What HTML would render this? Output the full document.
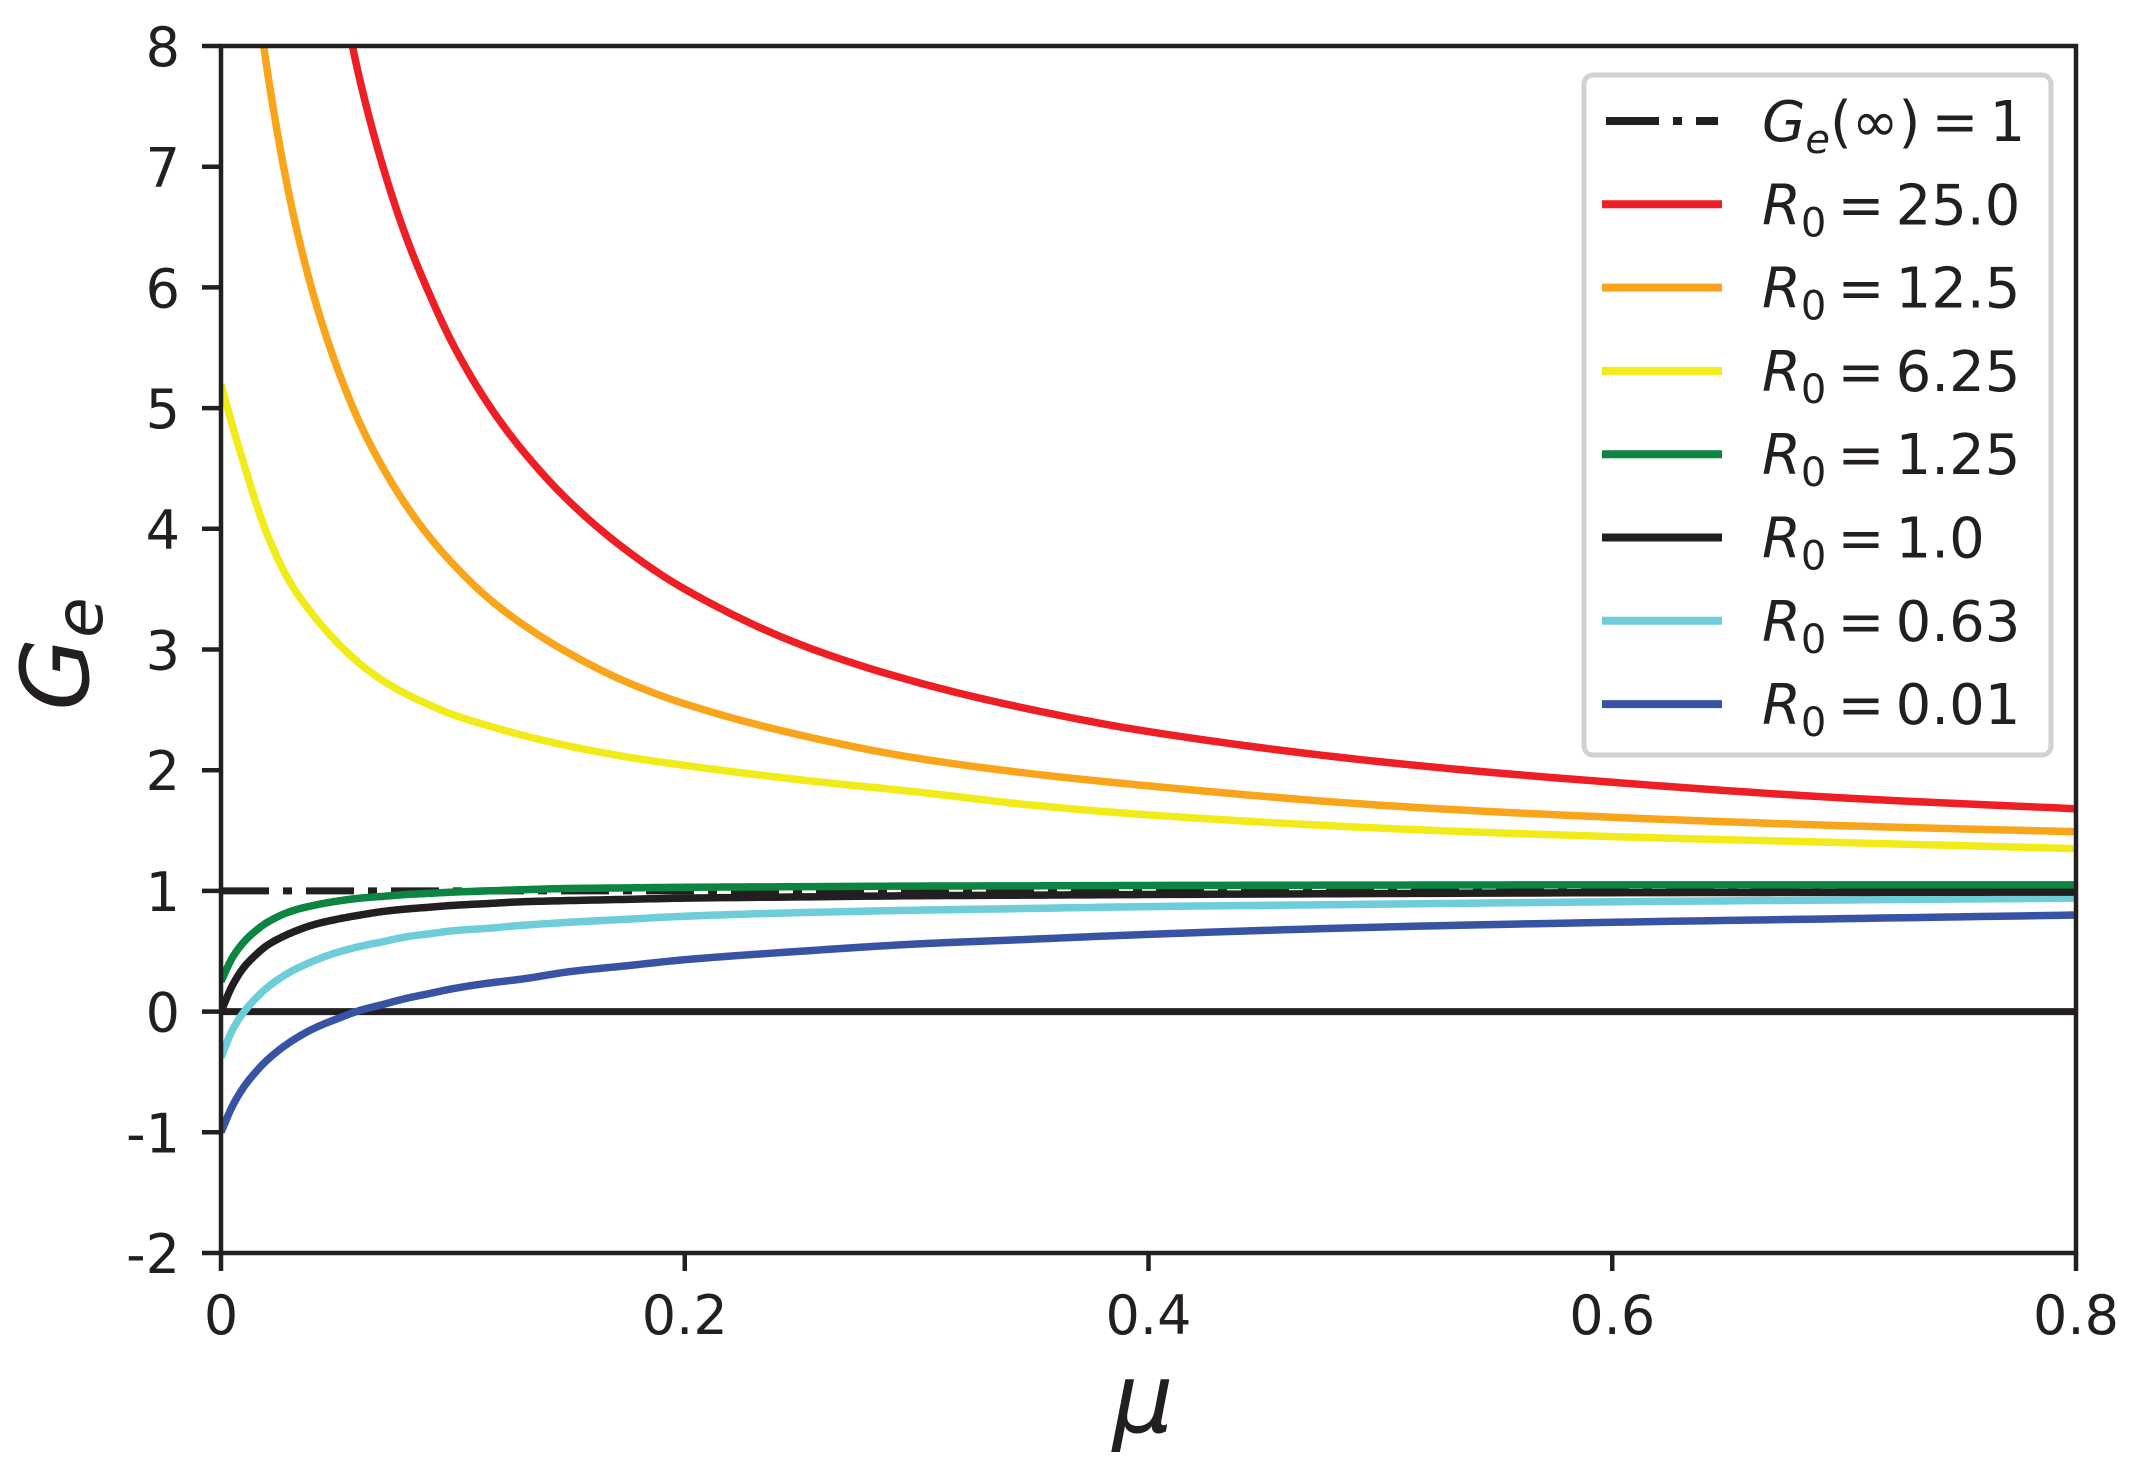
<!DOCTYPE html>
<html><head><meta charset="utf-8"><style>
html,body{margin:0;padding:0;background:#fff;}
svg{display:block;font-family:"DejaVu Sans","Liberation Sans",sans-serif;}
</style></head><body>
<svg id="chart" width="2138" height="1479" viewBox="0 0 2138 1479" xmlns="http://www.w3.org/2000/svg">
<defs><clipPath id="plotclip"><rect x="221" y="46" width="1855" height="1207"/></clipPath></defs>
<g id="series" clip-path="url(#plotclip)"></g>
<g id="axes"></g>
<g id="legend"></g>
<text x="1143" y="1432" font-size="96" font-style="italic" text-anchor="middle" fill="#231f20">μ</text>
<text transform="translate(88,654) rotate(-90)" font-size="94" font-style="italic" text-anchor="middle" fill="#231f20">G<tspan font-size="66" dy="14">e</tspan></text>
</svg>
<script>
const muValues = [0, 0.005, 0.01, 0.015, 0.02, 0.03, 0.04, 0.05, 0.06, 0.07, 0.08, 0.09, 0.1, 0.115, 0.13, 0.15, 0.175, 0.2, 0.25, 0.3, 0.35, 0.4, 0.5, 0.6, 0.7, 0.8];
const seriesR25 = [null, null, null, null, null, null, null, 8.63, 7.71, 6.99, 6.41, 5.94, 5.53, 5.04, 4.65, 4.23, 3.82, 3.50, 3.04, 2.73, 2.50, 2.32, 2.07, 1.90, 1.77, 1.68];
const seriesR12_5 = [null, null, null, 8.5, 7.79, 6.71, 5.93, 5.34, 4.87, 4.50, 4.19, 3.93, 3.71, 3.43, 3.21, 2.97, 2.73, 2.55, 2.29, 2.10, 1.97, 1.87, 1.71, 1.61, 1.54, 1.49];
const seriesR6_25 = [5.2, 4.85, 4.53, 4.22, 3.95, 3.55, 3.28, 3.06, 2.88, 2.74, 2.63, 2.54, 2.46, 2.37, 2.29, 2.20, 2.11, 2.04, 1.92, 1.82, 1.71, 1.63, 1.52, 1.45, 1.40, 1.35];
const seriesR1_25 = [0.25, 0.45, 0.58, 0.67, 0.74, 0.83, 0.88, 0.915, 0.94, 0.955, 0.97, 0.98, 0.99, 1.0, 1.01, 1.02, 1.025, 1.03, 1.035, 1.04, 1.042, 1.045, 1.048, 1.05, 1.05, 1.05];
const seriesR1_0 = [0, 0.22, 0.37, 0.47, 0.55, 0.65, 0.72, 0.765, 0.80, 0.83, 0.85, 0.865, 0.88, 0.895, 0.91, 0.92, 0.93, 0.94, 0.95, 0.96, 0.965, 0.97, 0.978, 0.985, 0.988, 0.99];
const seriesR0_63 = [-0.38, -0.15, 0.0, 0.11, 0.2, 0.33, 0.42, 0.49, 0.54, 0.58, 0.62, 0.645, 0.67, 0.69, 0.715, 0.74, 0.765, 0.79, 0.82, 0.84, 0.855, 0.87, 0.89, 0.91, 0.925, 0.94];
const seriesR0_01 = [-1.0, -0.78, -0.62, -0.5, -0.4, -0.25, -0.14, -0.06, 0.01, 0.06, 0.11, 0.15, 0.19, 0.235, 0.27, 0.33, 0.38, 0.43, 0.50, 0.56, 0.60, 0.64, 0.70, 0.74, 0.77, 0.80];
const xTicks = [0, 0.2, 0.4, 0.6, 0.8];
const xTickLabels = ["0", "0.2", "0.4", "0.6", "0.8"];
const yTicks = [-2, -1, 0, 1, 2, 3, 4, 5, 6, 7, 8];
const yTickLabels = ["-2", "-1", "0", "1", "2", "3", "4", "5", "6", "7", "8"];
const legendLabels = ["25.0", "12.5", "6.25", "1.25", "1.0", "0.63", "0.01"];

const NS = "http://www.w3.org/2000/svg";
const X0 = 221, X1 = 2076, Y0 = 1253, Y1 = 46;
const xs = v => X0 + (v - 0) / 0.8 * (X1 - X0);
const ys = v => Y0 - (v + 2) / 10 * (Y0 - Y1);
function mk(tag, attrs, parent) { const e = document.createElementNS(NS, tag); for (const k in attrs) e.setAttribute(k, attrs[k]); parent.appendChild(e); return e; }

// monotone cubic (Fritsch-Carlson) interpolation in data space, sampled densely
function monotonePath(X, Y) {
  const n = X.length;
  const d = [], m = new Array(n);
  for (let i = 0; i < n - 1; i++) d.push((Y[i + 1] - Y[i]) / (X[i + 1] - X[i]));
  m[0] = d[0]; m[n - 1] = d[n - 2];
  for (let i = 1; i < n - 1; i++) {
    if (d[i - 1] * d[i] <= 0) m[i] = 0;
    else {
      const h0 = X[i] - X[i - 1], h1 = X[i + 1] - X[i];
      const w1 = 2 * h1 + h0, w2 = h1 + 2 * h0;
      m[i] = (w1 + w2) / (w1 / d[i - 1] + w2 / d[i]);
    }
  }
  let path = "";
  for (let i = 0; i < n - 1; i++) {
    const h = X[i + 1] - X[i];
    const steps = 12;
    for (let s = (i === 0 ? 0 : 1); s <= steps; s++) {
      const t = s / steps;
      const h00 = 2*t*t*t - 3*t*t + 1, h10 = t*t*t - 2*t*t + t, h01 = -2*t*t*t + 3*t*t, h11 = t*t*t - t*t;
      const y = h00 * Y[i] + h10 * h * m[i] + h01 * Y[i + 1] + h11 * h * m[i + 1];
      const x = X[i] + t * h;
      path += (path ? "L" : "M") + xs(x).toFixed(2) + "," + ys(y).toFixed(2);
    }
  }
  return path;
}

const series = document.getElementById("series");
const axes = document.getElementById("axes");
const legend = document.getElementById("legend");

const zl = mk("line", {x1: xs(0), x2: xs(0.8), y1: ys(0), y2: ys(0), stroke: "#231f20", "stroke-width": 7}, series);


const asy = mk("line", {x1: xs(0), x2: xs(0.8), y1: ys(1), y2: ys(1), stroke: "#231f20", "stroke-width": 7, "stroke-dasharray": "48,14,9,14"}, series);



const defs = [
  [seriesR0_01, "#3953a4", "series-r0-0.01"],
  [seriesR0_63, "#6dcdd9", "series-r0-0.63"],
  [seriesR1_0, "#231f20", "series-r0-1.0"],
  [seriesR1_25, "#0c8442", "series-r0-1.25"],
  [seriesR6_25, "#f2eb1a", "series-r0-6.25"],
  [seriesR12_5, "#f9a51b", "series-r0-12.5"],
  [seriesR25, "#ed1f24", "series-r0-25.0"]
];
defs.forEach(([vals, col, nm]) => {
  const X = [], Y = [];
  vals.forEach((v, i) => { if (v !== null) { X.push(muValues[i]); Y.push(v); } });
  const p = mk("path", {d: monotonePath(X, Y), fill: "none", stroke: col, "stroke-width": 7.5, "stroke-linejoin": "round"}, series);
  
  
});

const fr = mk("rect", {x: X0, y: Y1, width: X1 - X0, height: Y0 - Y1, fill: "none", stroke: "#231f20", "stroke-width": 4.5}, axes);



xTicks.forEach((v, i) => {
  const t = mk("line", {x1: xs(v), x2: xs(v), y1: Y0, y2: Y0 + 18, stroke: "#231f20", "stroke-width": 4.5}, axes);
  
  
  const l = mk("text", {x: xs(v), y: 1334, "font-size": 54, "text-anchor": "middle", fill: "#231f20"}, axes);
  l.textContent = xTickLabels[i];
  
  
});
yTicks.forEach((v, i) => {
  const t = mk("line", {x1: X0 - 19, x2: X0, y1: ys(v), y2: ys(v), stroke: "#231f20", "stroke-width": 4.5}, axes);
  
  
  const l = mk("text", {x: 180, y: ys(v) + 20, "font-size": 54, "text-anchor": "end", fill: "#231f20"}, axes);
  l.textContent = yTickLabels[i];
  
  
});

const lb = mk("rect", {x: 1584, y: 75, width: 467, height: 680, rx: 9, fill: "#fff", stroke: "#d1d2d4", "stroke-width": 5}, legend);


const rowY = i => 121 + i * 83.3;
const legCols = ["#ed1f24", "#f9a51b", "#f2eb1a", "#0c8442", "#231f20", "#6dcdd9", "#3953a4"];
{
  const g = mk("g", {}, legend);
  
  
  mk("line", {x1: 1606, x2: 1718, y1: rowY(0), y2: rowY(0), stroke: "#231f20", "stroke-width": 8, "stroke-dasharray": "53,14,9,14,40,0"}, g);
  const t = mk("text", {x: 1762, y: rowY(0) + 20, "font-size": 56, fill: "#231f20"}, g);
  t.innerHTML = '<tspan font-style="italic">G</tspan><tspan font-style="italic" font-size="40" dy="12">e</tspan><tspan dy="-12">(∞)\u2009=\u20091</tspan>';
}
legendLabels.forEach((lab, i) => {
  const g = mk("g", {}, legend);
  
  
  mk("line", {x1: 1602, x2: 1722, y1: rowY(i + 1), y2: rowY(i + 1), stroke: legCols[i], "stroke-width": 8}, g);
  const t = mk("text", {x: 1762, y: rowY(i + 1) + 20, "font-size": 56, fill: "#231f20"}, g);
  t.innerHTML = '<tspan font-style="italic">R</tspan><tspan font-size="40" dy="12">0</tspan><tspan dy="-12">\u2009=\u2009' + lab + '</tspan>';
});
</script>
</body></html>
